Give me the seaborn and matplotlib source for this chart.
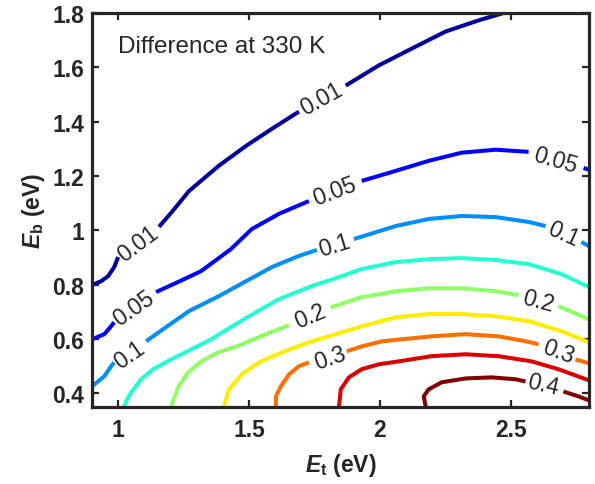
import numpy as np
import pandas as pd
import seaborn as sns
import matplotlib
matplotlib.use("Agg")
import matplotlib.pyplot as plt

sns.set_style("ticks")
plt.rcParams["font.family"] = ["Liberation Sans", "DejaVu Sans"]
plt.rcParams["mathtext.fontset"] = "custom"
plt.rcParams["mathtext.it"] = "Liberation Sans:italic:bold"
plt.rcParams["mathtext.rm"] = "Liberation Sans:bold"
plt.rcParams["mathtext.bf"] = "Liberation Sans:bold"

levels = [0.01, 0.05, 0.1, 0.15, 0.2, 0.25, 0.3, 0.35, 0.4]

# contour paths, (Et, Eb) pieces between inline labels
c001 = [
    [(0.9, 0.799), (0.935, 0.813), (0.962, 0.832), (0.985, 0.865), (1.0, 0.902)],
    [(1.156, 1.013), (1.202, 1.064), (1.271, 1.145), (1.385, 1.238), (1.489, 1.311),
     (1.588, 1.374), (1.691, 1.437)],
    [(1.870, 1.533), (1.996, 1.607), (2.122, 1.669), (2.252, 1.732), (2.378, 1.773),
     (2.473, 1.8)],
]
c005 = [
    [(0.9, 0.599), (0.947, 0.618), (0.973, 0.647), (0.985, 0.662)],
    [(1.145, 0.773), (1.229, 0.810), (1.317, 0.850), (1.431, 0.931), (1.511, 1.005),
     (1.615, 1.061), (1.729, 1.108)],
    [(1.931, 1.182), (2.061, 1.219), (2.187, 1.256), (2.313, 1.286), (2.443, 1.297),
     (2.569, 1.289)],
    [(2.779, 1.230), (2.8, 1.223)],
]
c010 = [
    [(0.9, 0.426), (0.947, 0.463), (0.973, 0.500), (0.985, 0.514)],
    [(1.107, 0.592), (1.183, 0.644), (1.271, 0.703), (1.385, 0.758), (1.489, 0.813),
     (1.588, 0.865), (1.691, 0.906), (1.760, 0.928)],
    [(1.901, 0.968), (2.061, 1.016), (2.187, 1.042), (2.313, 1.053), (2.443, 1.049),
     (2.569, 1.031), (2.634, 1.016)],
    [(2.771, 0.957), (2.8, 0.942)],
]
c015 = [
    [(1.023, 0.35), (1.034, 0.378), (1.050, 0.404), (1.088, 0.452), (1.134, 0.489),
     (1.202, 0.525), (1.279, 0.562), (1.355, 0.599), (1.431, 0.644), (1.5, 0.684),
     (1.615, 0.747), (1.740, 0.795), (1.844, 0.828), (1.931, 0.858), (2.061, 0.883),
     (2.187, 0.894), (2.313, 0.898), (2.443, 0.891), (2.569, 0.876), (2.695, 0.839),
     (2.8, 0.791)],
]
c020 = [
    [(1.202, 0.35), (1.229, 0.422), (1.267, 0.477), (1.317, 0.517), (1.382, 0.551),
     (1.462, 0.576), (1.565, 0.618), (1.653, 0.651)],
    [(1.813, 0.717), (1.931, 0.754), (2.061, 0.776), (2.187, 0.787), (2.313, 0.787),
     (2.443, 0.776), (2.531, 0.762)],
    [(2.683, 0.721), (2.8, 0.673)],
]
c025 = [
    [(1.405, 0.35), (1.412, 0.378), (1.424, 0.415), (1.473, 0.470), (1.538, 0.514),
     (1.626, 0.551), (1.729, 0.588), (1.832, 0.618), (1.931, 0.647), (2.061, 0.680),
     (2.187, 0.692), (2.313, 0.692), (2.443, 0.684), (2.569, 0.666), (2.695, 0.629),
     (2.8, 0.588)],
]
c030 = [
    [(1.603, 0.35), (1.603, 0.389), (1.622, 0.426), (1.653, 0.470), (1.691, 0.500),
     (1.729, 0.514)],
    [(1.874, 0.555), (1.931, 0.573), (2.010, 0.592), (2.198, 0.610), (2.328, 0.618),
     (2.454, 0.610), (2.557, 0.592), (2.607, 0.581)],
    [(2.748, 0.525), (2.8, 0.511)],
]
c035 = [
    [(1.844, 0.35), (1.851, 0.415), (1.882, 0.459), (1.931, 0.489), (1.996, 0.507),
     (2.073, 0.518), (2.198, 0.537), (2.328, 0.544), (2.454, 0.537), (2.580, 0.518),
     (2.683, 0.489), (2.8, 0.448)],
]
c040 = [
    [(2.176, 0.35), (2.168, 0.389), (2.187, 0.415), (2.237, 0.441), (2.328, 0.455),
     (2.427, 0.459), (2.519, 0.452), (2.557, 0.444)],
    [(2.702, 0.407), (2.760, 0.389), (2.8, 0.374)],
]
paths = [c001, c005, c010, c015, c020, c025, c030, c035, c040]

# inline contour labels: text, Et, Eb, angle
label_text = ["0.01", "0.01", "0.05", "0.05", "0.05", "0.1", "0.1", "0.1",
              "0.2", "0.2", "0.3", "0.3", "0.4"]
label_x = [1.076, 1.779, 1.061, 1.828, 2.672, 1.042, 1.828, 2.702,
           1.733, 2.607, 1.809, 2.683, 2.626]
label_y = [0.953, 1.485, 0.714, 1.145, 1.260, 0.544, 0.946, 0.987,
           0.684, 0.739, 0.533, 0.555, 0.433]
label_rot = [37, 29, 35, 21, -16, 35, 17, -24, 23, -15, 19, -20, -13]

rows = []
for lev, segs in zip(levels, paths):
    for k, seg in enumerate(segs):
        for i, (x, y) in enumerate(seg):
            rows.append((lev, f"{lev}_{k}", i, x, y))
df = pd.DataFrame(rows, columns=["level", "seg", "i", "Et", "Eb"])

norm = plt.Normalize(0.0, 0.38, clip=True)
pal = {lev: plt.cm.jet(norm(lev)) for lev in levels}

fig = plt.figure(figsize=(5.95, 4.85), dpi=100)
ax = fig.add_axes([0.1546, 0.1588, 0.8354, 0.8123])

sns.lineplot(data=df, x="Et", y="Eb", hue="level", units="seg", estimator=None,
             sort=False, palette=pal, lw=2.9, legend=False, ax=ax,
             solid_capstyle="butt", solid_joinstyle="round")

for t, x, y, r in zip(label_text, label_x, label_y, label_rot):
    ax.text(x, y, t, fontsize=16.5, rotation=r, ha="center", va="center",
            rotation_mode="anchor")

ax.text(0.052, 0.916, "Difference at 330 K", transform=ax.transAxes,
        fontsize=17.5, ha="left", va="center")

ax.set_xlim(0.9, 2.8)
ax.set_ylim(0.35, 1.8)
ax.set_xticks([1, 1.5, 2, 2.5])
ax.set_xticklabels(["1", "1.5", "2", "2.5"])
ax.set_yticks([0.4, 0.6, 0.8, 1, 1.2, 1.4, 1.6, 1.8])
ax.set_yticklabels(["0.4", "0.6", "0.8", "1", "1.2", "1.4", "1.6", "1.8"])
ax.tick_params(direction="in", top=True, right=True, length=5, width=1.6,
               labelsize=16.5)
ax.tick_params(axis="x", pad=8)
ax.tick_params(axis="y", pad=5.5)
for lab in ax.get_xticklabels() + ax.get_yticklabels():
    lab.set_fontweight("bold")
for s in ax.spines.values():
    s.set_linewidth(2.3)
    s.set_visible(True)

ax.set_xlabel(r"$E_{\rm t}$ (eV)", fontsize=16.5, fontweight="bold", labelpad=7)
ax.set_ylabel(r"$E_{\rm b}$ (eV)", fontsize=16.5, fontweight="bold", labelpad=4)

fig.savefig("out.png", dpi=100)
